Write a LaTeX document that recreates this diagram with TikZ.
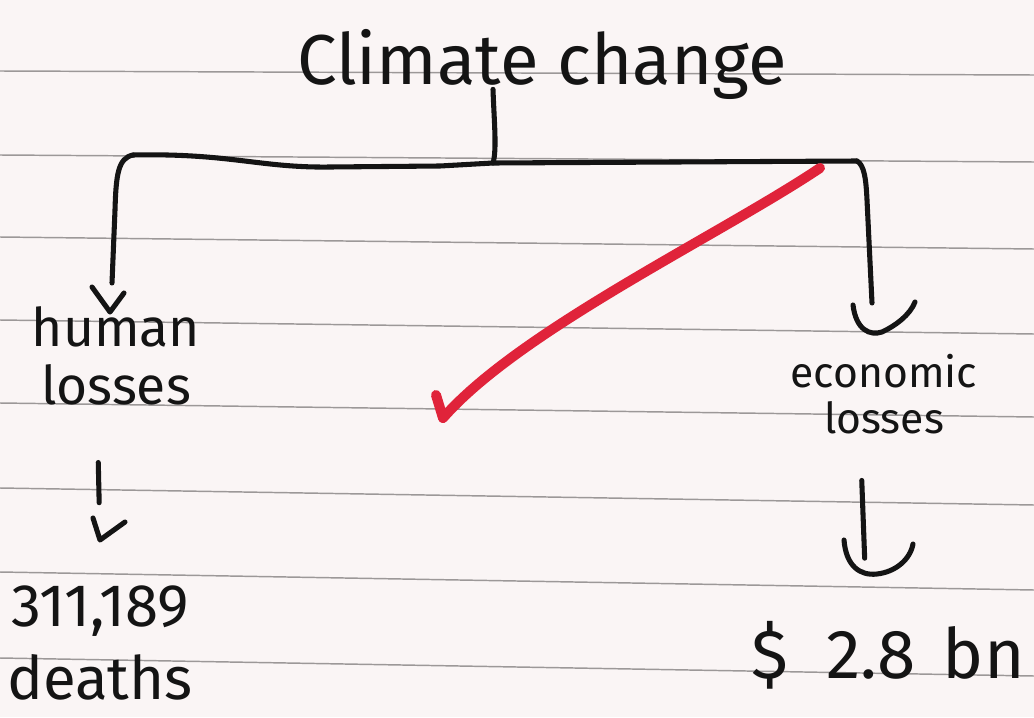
\documentclass[tikz,border=0pt]{standalone}
\usepackage{fontspec}
\setmainfont{Fira Sans}
\newfontfamily\handfont{Fira Sans}
\usetikzlibrary{arrows.meta}
\definecolor{paper}{HTML}{FAF5F5}
\definecolor{rule}{HTML}{9C9898}
\definecolor{ink}{HTML}{141414}
\definecolor{redink}{HTML}{E0233A}
\tikzset{
  ruled/.style={draw=rule, line width=1.1pt},
  inkline/.style={draw=ink, line width=3.8pt, line cap=round, line join=round},
  redline/.style={draw=redink, line width=7.5pt, line cap=round, line join=round},
  hand/.style 2 args={text=ink, align=center, inner sep=0pt,
    font=\handfont\fontsize{#1}{#2}\selectfont},
}
\begin{document}
\begin{tikzpicture}[x=0.75pt,y=-0.75pt]
\fill[paper] (0,0) rectangle (1034,717);
\useasboundingbox (0,0) rectangle (1034,717);
% ruled lines
\foreach \a/\b in {71/75,155/162,237/249,320/334,403/417,488/505,572/590,658/676}
  \draw[ruled] (0,\a) -- (1034,\b);

% texts
\node[hand={53}{60}] (title) at (542,64) {Climate change};
\node[hand={40}{43}] (human) at (116,356) {human\\losses};
\node[hand={32}{34}] (econ) at (884,394) {economic\\losses};
\node[hand={45}{55}] (deaths) at (100,643) {311,189\\deaths};
\node[hand={52}{55}] (money) at (888,655) {\$\hspace{0.55em}2.8\hspace{0.4em}bn};

% bracket
\coordinate (mid) at (493,163);
\coordinate (lt) at (133,155);
\coordinate (rt) at (857,161);
\draw[inkline] (title.south -| 493,0) ++(0,-10) .. controls (494,120) and (497,150) .. (mid);
\draw[inkline] (lt) .. controls (230,153) and (260,168) .. (330,167)
  -- (440,166) -- (mid) -- (rt);
% left leg with its V
\coordinate (lend) at (112,283);
\draw[inkline] (lt) .. controls (118,158) and (116,175) .. (115,210) -- (lend);
\draw[inkline] (92,287) -- (110,312) -- (124,293);
% right leg with its U
\coordinate (rend) at (872,303);
\draw[inkline] (rt) .. controls (864,165) and (866,178) .. (867,200) -- (rend);
\draw[inkline] (853,305) .. controls (856,330) and (870,336) .. (882,332)
  .. controls (895,326) and (910,315) .. (915,302);
% lower left arrow
\draw[inkline, shorten <=43pt, shorten >=62pt] (human.south -| 97,0) -- (deaths.north -| 101,0);
\draw[inkline] (93,518) -- (100,540) -- (125,522);
% lower right arrow
\draw[inkline, shorten <=35pt, shorten >=47pt] (econ.south -| 860,0) -- (money.north -| 867,0);
\draw[inkline] (844,540) .. controls (846,566) and (860,576) .. (877,574)
  .. controls (895,572) and (910,560) .. (913,544);

% red check arrow
\coordinate (rs0) at (820,168);
\coordinate (re0) at (443,418);
\draw[redline] (rs0) .. controls (720,235) and (520,330) .. (re0) -- (436,395);
\end{tikzpicture}
\end{document}
